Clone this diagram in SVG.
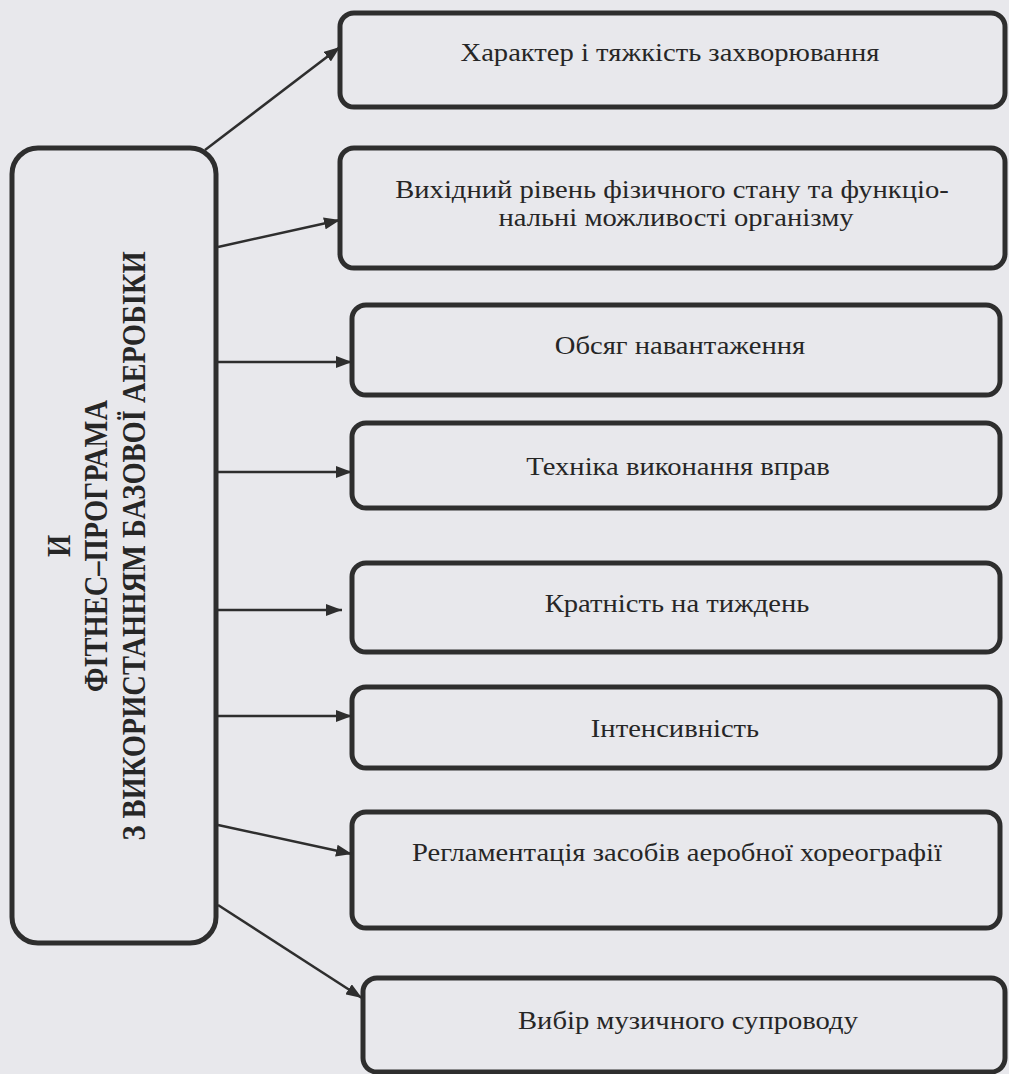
<svg xmlns="http://www.w3.org/2000/svg" width="1009" height="1074" viewBox="0 0 1009 1074">
<defs>
<marker id="ah" viewBox="0 0 16 12" refX="16" refY="6" markerWidth="16" markerHeight="12" markerUnits="userSpaceOnUse" orient="auto">
<path d="M0,0 L16,6 L0,12 Z" fill="#2e2e2e"/>
</marker>
<style>
.box{fill:none;stroke:#2e2e2e;stroke-width:5}
.t{font-family:"Liberation Serif","Times New Roman",serif;font-size:26px;fill:#262626;text-anchor:middle}
.v{font-family:"Liberation Serif","Times New Roman",serif;font-size:28.5px;font-weight:bold;fill:#262626;text-anchor:middle}
.c{stroke:#2e2e2e;stroke-width:2.5;fill:none}
</style>
</defs>
<rect width="1009" height="1074" fill="#e8e8ec"/>
<g id="main">
<rect class="box" x="12" y="148" width="204" height="795" rx="26"/>
<text class="v" transform="translate(70,546) scale(1.2,1) rotate(-90)">И</text>
<text class="v" transform="translate(107,546) scale(1.2,1) rotate(-90)">ФІТНЕС–ПРОГРАМА</text>
<text class="v" transform="translate(145,546) scale(1.2,1) rotate(-90)">З ВИКОРИСТАННЯМ БАЗОВОЇ АЕРОБІКИ</text>
</g>
<g id="n1"><rect class="box" x="340" y="13" width="665" height="94" rx="14"/><text class="t" transform="translate(670,61) scale(1.1,1)">Характер і тяжкість захворювання</text></g>
<g id="n2"><rect class="box" x="340" y="148" width="665" height="120" rx="14"/><text class="t" transform="translate(672,198) scale(1.1,1)">Вихідний рівень фізичного стану та функціо-</text><text class="t" transform="translate(676,226) scale(1.1,1)">нальні можливості організму</text></g>
<g id="n3"><rect class="box" x="352" y="305" width="648" height="90" rx="14"/><text class="t" transform="translate(680,354) scale(1.1,1)">Обсяг навантаження</text></g>
<g id="n4"><rect class="box" x="352" y="423" width="648" height="85" rx="14"/><text class="t" transform="translate(678,475) scale(1.1,1)">Техніка виконання вправ</text></g>
<g id="n5"><rect class="box" x="352" y="563" width="648" height="89" rx="14"/><text class="t" transform="translate(677,612) scale(1.1,1)">Кратність на тиждень</text></g>
<g id="n6"><rect class="box" x="352" y="687" width="648" height="81" rx="14"/><text class="t" transform="translate(675,737) scale(1.1,1)">Інтенсивність</text></g>
<g id="n7"><rect class="box" x="352" y="812" width="648" height="116" rx="14"/><text class="t" transform="translate(677,861) scale(1.1,1)">Регламентація засобів аеробної хореографії</text></g>
<g id="n8"><rect class="box" x="363" y="978" width="642" height="94" rx="14"/><text class="t" transform="translate(688,1029) scale(1.1,1)">Вибір музичного супроводу</text></g>
<g id="connectors">
<line class="c" x1="205" y1="150" x2="340" y2="47" marker-end="url(#ah)"/>
<line class="c" x1="218" y1="247" x2="340" y2="220" marker-end="url(#ah)"/>
<line class="c" x1="218" y1="362" x2="352" y2="362" marker-end="url(#ah)"/>
<line class="c" x1="218" y1="472" x2="352" y2="472" marker-end="url(#ah)"/>
<line class="c" x1="218" y1="610" x2="342" y2="610" marker-end="url(#ah)"/>
<line class="c" x1="218" y1="716" x2="352" y2="716" marker-end="url(#ah)"/>
<line class="c" x1="218" y1="825" x2="352" y2="854" marker-end="url(#ah)"/>
<line class="c" x1="218" y1="905" x2="362" y2="998" marker-end="url(#ah)"/>
</g>
</svg>
